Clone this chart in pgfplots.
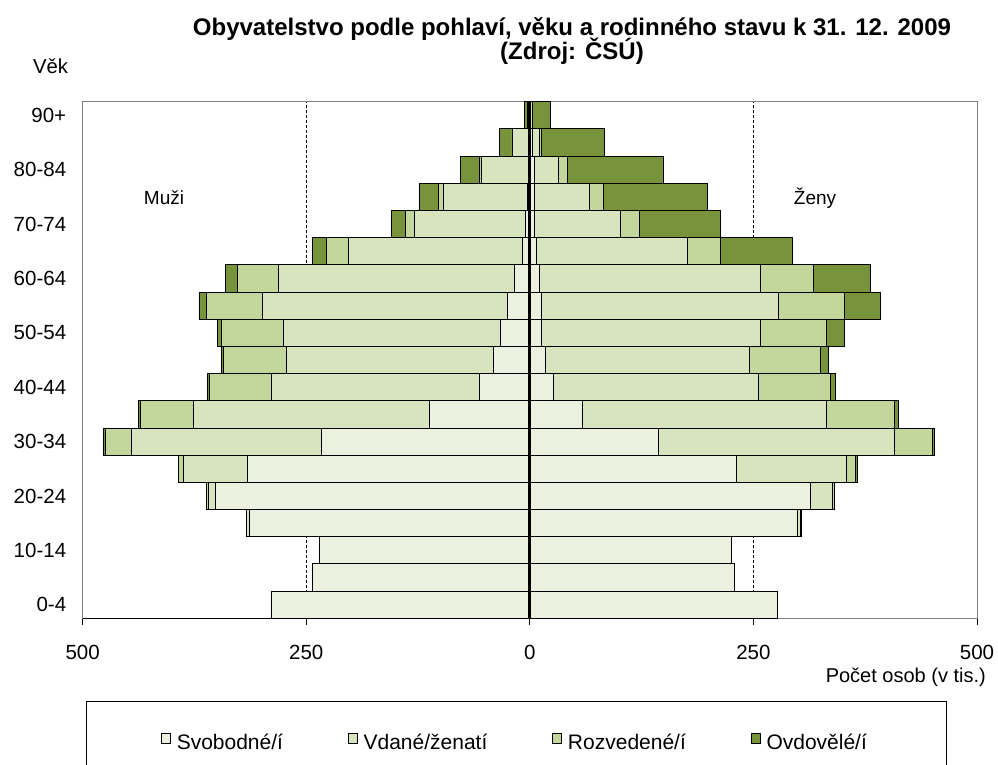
\documentclass[border=0pt]{standalone}
\usepackage{fontspec}
\setmainfont{Liberation Sans}
\usepackage{pgfplots}
\usepackage{pgfplotstable}
\pgfplotsset{compat=1.18}
\definecolor{svob}{HTML}{EBF1DE}
\definecolor{vdane}{HTML}{D7E4BD}
\definecolor{rozv}{HTML}{C3D69B}
\definecolor{ovd}{HTML}{77933C}

\pgfplotstableread{
idx svob vdane rozv ovd
0 -289 0 0 0
1 -243 0 0 0
2 -235 0 0 0
3 -314 -2.5 -0.3 -0.1
4 -352 -7.5 -2 -0.2
5 -316 -71.6 -4.8 -0.5
6 -233 -212 -30 -1.5
7 -112 -264 -59 -2.5
8 -56 -233 -69 -3
9 -41 -231 -71 -2
10 -33 -243 -69 -4
11 -25 -274 -63 -8
12 -17 -264 -46 -13.5
13 -8 -194.5 -25 -15.6
14 -4.5 -125 -9.3 -15.6
15 -2.7 -94 -5.6 -21.7
16 -1.5 -52.7 -2.6 -20.5
17 -0.8 -18.5 -0.7 -13.5
18 -0.5 -2 -0.5 -3
}\men

\pgfplotstableread{
idx svob vdane rozv ovd
0 276.6 0 0 0
1 228.8 0 0 0
2 225 0 0 0
3 299 4 0.5 0.2
4 313.5 24.5 2.5 0.5
5 230.7 123 10.4 2
6 143.7 264.3 41.7 2.3
7 59 273 76 3.6
8 26 229.6 80.4 6
9 17 229 79.4 9
10 13 244.5 74.5 20
11 13 265 73.6 40
12 10.4 247 59.5 63.7
13 7.4 169 36.5 81
14 5 96 21.4 90.6
15 5 61.6 15.6 116
16 5 26.7 10.4 107.5
17 2.5 8 3 70
18 1 1.5 0.5 20
}\zeny

\pgfplotsset{
  base/.style={at={(82.7pt,146.7pt)}, anchor=south west, scale only axis,
    width=894.3pt, height=516.6pt, xmin=-500, xmax=500, ymin=-0.5, ymax=18.5},
  bars/.style={xbar stacked, bar width=1, every axis plot/.append style={draw=black, line width=0.9pt}},
}

\begin{document}
\begin{tikzpicture}[x=1pt,y=1pt]
% background axis with frame, ticks, labels, dashed lines
\begin{axis}[base,
  axis line style={draw=black!50, line width=1pt},
  xtick={-500,-250,0,250,500},
  xticklabels={500,250,0,250,500},
  xtick pos=left, ytick pos=left,
  tick align=outside,
  major tick length=7pt,
  xtick style={black, line width=0.8pt},
  ytick={0,2,4,6,8,10,12,14,16,18},
  yticklabels={0-4,10-14,20-24,30-34,40-44,50-54,60-64,70-74,80-84,90+},
  ytick style={draw=none},
  ticklabel style={font=\fontsize{20.5}{20.5}\selectfont},
  xticklabel shift=16pt,
  yticklabel style={xshift=-6pt},
]
\addplot[black, line width=0.9pt, dash pattern=on 3pt off 2pt] coordinates {(-250,-0.5) (-250,18.5)};
\addplot[black, line width=0.9pt, dash pattern=on 3pt off 2pt] coordinates {(250,-0.5) (250,18.5)};
\addplot[black, line width=1.2pt] coordinates {(-500,-0.5) (0,-0.5)};
\end{axis}
% men
\begin{axis}[base, hide axis, bars,
  legend columns=4,
  legend image code/.code={\draw[#1, line width=0.6pt] (0pt,-1pt) rectangle (9pt,9pt);},
  legend style={at={(0.484,-0.2395)}, anchor=center, draw=none, fill=none,
    font=\fontsize{21}{21}\selectfont,
    nodes={inner xsep=3pt, inner ysep=2pt},
    /tikz/every odd column/.append style={column sep=3pt},
    /tikz/every even column/.append style={column sep=62pt}},
]
\addplot[fill=svob] table[x=svob, y=idx] {\men};
\addplot[fill=vdane] table[x=vdane, y=idx] {\men};
\addplot[fill=rozv] table[x=rozv, y=idx] {\men};
\addplot[fill=ovd] table[x=ovd, y=idx] {\men};
\legend{Svobodné/í, Vdané/ženatí, Rozvedené/í, Ovdovělé/í}
\end{axis}
% women
\begin{axis}[base, hide axis, bars]
\addplot[fill=svob] table[x=svob, y=idx] {\zeny};
\addplot[fill=vdane] table[x=vdane, y=idx] {\zeny};
\addplot[fill=rozv] table[x=rozv, y=idx] {\zeny};
\addplot[fill=ovd] table[x=ovd, y=idx] {\zeny};
\end{axis}
% zero line
\begin{axis}[base, hide axis]
\addplot[black, line width=3pt] coordinates {(0,-0.5) (0,18.5)};
\end{axis}

\node[anchor=base, font=\bfseries\fontsize{24}{24}\selectfont] at (572,729.3) {Obyvatelstvo podle pohlaví, věku a rodinného stavu k 31. 12. 2009};
\node[anchor=base, font=\bfseries\fontsize{24}{24}\selectfont] at (572,705) {(Zdroj: ČSÚ)};
\node[anchor=base, font=\fontsize{20.3}{20.3}\selectfont] at (50.5,691) {Věk};
\node[anchor=base, font=\fontsize{19}{19}\selectfont] at (164,560) {Muži};
\node[anchor=base, font=\fontsize{19}{19}\selectfont] at (815,560) {Ženy};
\node[anchor=base east, inner sep=0pt, font=\fontsize{20}{20}\selectfont] at (986,82) {Počet osob (v tis.)};
\draw[black, line width=1pt] (86,63) rectangle (946,-30);
\pgfresetboundingbox
\path[use as bounding box] (0,0) rectangle (998,765);
\end{tikzpicture}
\end{document}
